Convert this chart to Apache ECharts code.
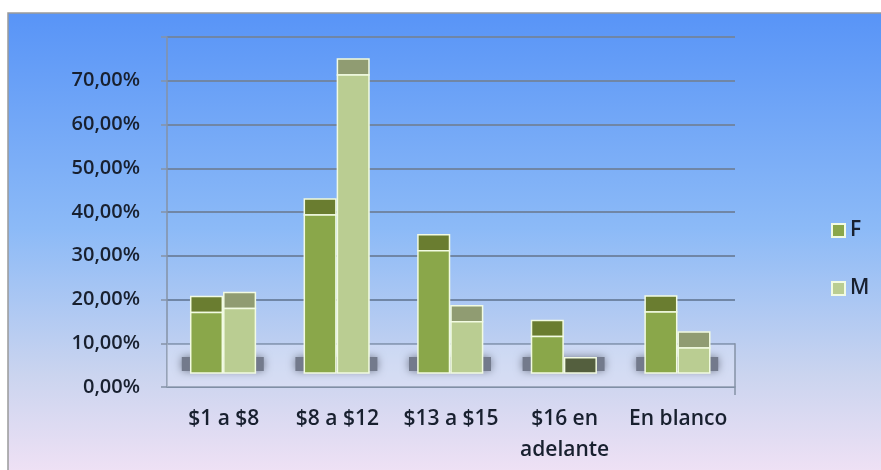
<!DOCTYPE html>
<html>
<head>
<meta charset="utf-8">
<script src="https://cdn.jsdelivr.net/npm/echarts@6/dist/echarts.min.js"></script>
<style>
html, body { margin: 0; padding: 0; background: #fff; }
#main { width: 881px; height: 470px; }
</style>
</head>
<body>
<div id="main"></div>
<script>
// datos
var categorias = ["$1 a $8", "$8 a $12", "$13 a $15", "$16 en\nadelante", "En blanco"];
var valoresF = [20.7, 43.0, 34.8, 15.2, 20.8];
var valoresM = [21.6, 75.0, 18.6, 6.7, 12.6];
var ticksY = [0, 10, 20, 30, 40, 50, 60, 70, 80];

var fuente = "Open Sans";
var colorTexto = "#18202f";

// barra "3D": cara superior oscura + cara frontal
function barra3d(offset, frente, arriba, oscuro, conSombra) {
  return function (params, api) {
    var i = api.value(0);
    var v = api.value(1);
    var tope = api.coord([i, v]);
    var base = api.coord([i, 0]);
    var ancho = api.size([1, 0])[0];
    var w = ancho * 0.278;
    var c = base[0];
    var x = c + offset * w + (offset < 0 ? -1.5 : 0);
    var y0 = base[1] - 14;
    var yTop = tope[1];
    var caraInf = Math.min(yTop + 16, y0);
    var hijos = [];
    if (conSombra) {
      hijos.push({
        type: "rect",
        shape: { x: c - 42, y: base[1] - 30, width: 82, height: 14 },
        style: { fill: "#737a8c", shadowBlur: 8, shadowColor: "#737a8c" }
      });
    }
    var hayFrente = y0 - caraInf > 0.5;
    hijos.push({
      type: "rect",
      shape: { x: x, y: yTop, width: w, height: caraInf - yTop },
      style: { fill: hayFrente ? arriba : oscuro, stroke: "#f2fbe2", lineWidth: 1.5 }
    });
    if (hayFrente) {
      hijos.push({
        type: "rect",
        shape: { x: x, y: caraInf, width: w, height: y0 - caraInf },
        style: { fill: frente, stroke: "#f2fbe2", lineWidth: 1.5 }
      });
    }
    return { type: "group", children: hijos };
  };
}

var myChart = echarts.init(document.getElementById("main"));

myChart.setOption({
  animation: false,
  textStyle: { fontFamily: fuente },
  graphic: [
    {
      type: "rect",
      z: -10,
      shape: { x: 8, y: 13, width: 900, height: 480 },
      style: {
        fill: new echarts.graphic.LinearGradient(0, 0, 0, 1, [
          { offset: 0, color: "#5894f7" },
          { offset: 0.45, color: "#8cbaf7" },
          { offset: 0.75, color: "#cad4ef" },
          { offset: 1, color: "#f7e4f6" }
        ]),
        stroke: "#9a9a9a",
        lineWidth: 1.5
      }
    }
  ],
  grid: { left: 167, right: 146, top: 37, bottom: 83 },
  legend: {
    data: ["F", "M"],
    orient: "vertical",
    left: 826,
    top: 215,
    itemWidth: 13,
    itemHeight: 13,
    itemGap: 37,
    itemTextGap: 6,
    icon: "rect",
    textStyle: { color: colorTexto, fontSize: 21, fontWeight: 600, lineHeight: 13, fontFamily: fuente }
  },
  xAxis: {
    type: "category",
    data: categorias,
    boundaryGap: true,
    axisLine: { lineStyle: { color: "#8592a6", width: 1.5 } },
    axisTick: { length: 8, lineStyle: { color: "#8592a6", width: 1.5 } },
    axisLabel: {
      color: colorTexto,
      fontSize: 21,
      fontWeight: 600,
      lineHeight: 31,
      margin: 17,
      interval: 0
    }
  },
  yAxis: {
    type: "value",
    min: ticksY[0],
    max: ticksY[ticksY.length - 1],
    interval: 10,
    axisLine: { show: true, lineStyle: { color: "#8592a6", width: 1.5 } },
    axisTick: { show: true, length: 6, lineStyle: { color: "#8592a6", width: 1.5 } },
    splitLine: { lineStyle: { color: "#7086a6", width: 2 } },
    axisLabel: {
      color: colorTexto,
      fontSize: 20,
      fontWeight: 600,
      margin: 27,
      formatter: function (v) {
        if (v >= 80) return "";
        return v.toFixed(2).replace(".", ",") + "%";
      }
    }
  },
  series: [
    {
      name: "piso",
      type: "custom",
      silent: true,
      z: 1,
      data: [[0, 0]],
      encode: { x: 0, y: 1 },
      renderItem: function (params, api) {
        var cs = params.coordSys;
        var y10 = api.coord([0, 10])[1];
        var y0 = api.coord([0, 0])[1];
        return {
          type: "group",
          children: [
            {
              type: "rect",
              shape: { x: cs.x, y: y10, width: cs.width, height: y0 - y10 },
              style: { fill: "rgba(235,238,252,0.3)" }
            },
            {
              type: "line",
              shape: { x1: cs.x + cs.width, y1: y10, x2: cs.x + cs.width, y2: y0 + 8 },
              style: { stroke: "#8592a6", lineWidth: 1.5 }
            }
          ]
        };
      }
    },
    {
      name: "F",
      type: "custom",
      z: 3,
      itemStyle: { color: "#8aa74a", borderColor: "#f2fbe2", borderWidth: 1 },
      data: categorias.map(function (c, i) { return [i, valoresF[i]]; }),
      encode: { x: 0, y: 1 },
      renderItem: barra3d(-1, "#8aa74a", "#6a7d30", "#4f5b36", true)
    },
    {
      name: "M",
      type: "custom",
      z: 4,
      itemStyle: { color: "#bacd92", borderColor: "#f2fbe2", borderWidth: 1 },
      data: categorias.map(function (c, i) { return [i, valoresM[i]]; }),
      encode: { x: 0, y: 1 },
      renderItem: barra3d(0, "#bacd92", "#909c72", "#545f3e", false)
    }
  ]
});
</script>
</body>
</html>
